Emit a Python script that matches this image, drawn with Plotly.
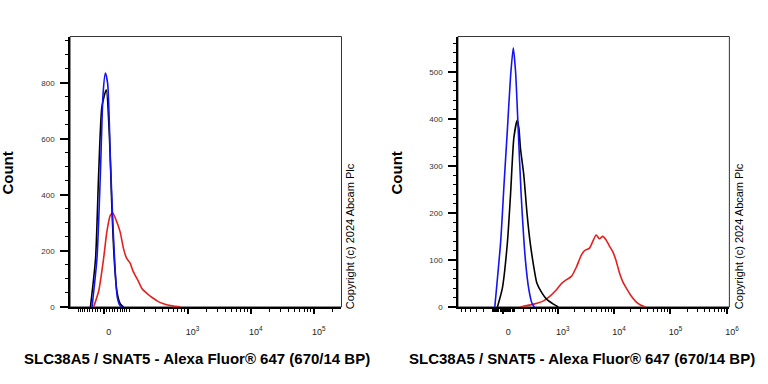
import numpy as np
import plotly.graph_objects as go

# ---------------- data (fluorescence intensity, event count) ----------------
L_blue_x = [-41, -23, -11, -2, 6, 14, 23, 32, 41, 49, 60, 70]
L_blue_y = [0, 174, 479, 760, 835, 796, 539, 303, 127, 33, 4, 0]
L_black_x = [-47, -28, -17, -6, 9, 20, 28, 37, 47, 60, 74]
L_black_y = [0, 174, 479, 714, 775, 610, 374, 174, 57, 12, 0]
L_red_x = [-35, -17, 0, 11, 23, 32, 47, 60, 74, 88, 105, 122, 153, 179, 228,
           275, 334, 402, 483, 601, 771]
L_red_y = [0, 57, 174, 268, 327, 335, 303, 268, 209, 174, 157, 127, 92, 65, 45,
           32, 20, 12, 7, 3, 0]

R_blue_x = [-79, -24, 6, 36, 66, 92, 115, 142, 175, 227, 271, 321, 362]
R_blue_y = [0, 140, 260, 375, 490, 551, 500, 380, 240, 100, 40, 8, 0]
R_black_x = [-54, -9, 36, 66, 98, 132, 150, 167, 206, 249, 295, 350, 405, 510,
             631, 836, 1028]
R_black_y = [0, 40, 135, 240, 360, 397, 380, 338, 282, 198, 135, 86, 51, 30,
             16, 6, 0]
R_red_x = [167, 350, 547, 725, 960, 1179, 1444, 1769, 2167, 2650, 3026, 3699,
           4245, 4846, 5534, 6349, 7237, 8281, 9488, 10834, 12365, 14186, 16184,
           19802, 24198, 29593, 36186]
R_red_y = [0, 6, 13, 23, 37, 50, 58, 65, 85, 110, 120, 125, 140, 153, 145, 150,
           143, 130, 118, 100, 75, 55, 42, 25, 12, 4, 0]

L_major = [0, 1e3, 1e4, 1e5]
L_major_text = ["0", "10<sup>3</sup>", "10<sup>4</sup>", "10<sup>5</sup>"]
R_major = [0, 1e3, 1e4, 1e5, 1e6]
R_major_text = ["0", "10<sup>3</sup>", "10<sup>4</sup>", "10<sup>5</sup>", "10<sup>6</sup>"]

L_yticks = [0, 200, 400, 600, 800]
R_yticks = [0, 100, 200, 300, 400, 500]

XTITLE = "SLC38A5 / SNAT5 - Alexa Fluor® 647 (670/14 BP)"
COPY = "Copyright (c) 2024 Abcam Plc"

def make_tf(cof):
    return lambda v: np.arcsinh(np.asarray(v, dtype=float) / (2 * cof)) / np.log(10)

tf_L = make_tf(47)
tf_R = make_tf(111)

def minor_vals(tf, lo, hi, majors):
    vals = []
    for k in range(1, 7):
        for m in range(1, 10):
            for s in (1, -1):
                v = s * m * 10 ** k
                if v in majors:
                    continue
                t = float(tf(v))
                if lo < t < hi:
                    vals.append(t)
    return sorted(vals)

FONT = "Liberation Sans, Arial, sans-serif"
BLUE = "#1414f0"
RED = "#e3211f"
BLACK = "#000000"

fig = go.Figure()

def add(xv, yv, color, xa, ya, tf):
    fig.add_trace(go.Scatter(x=tf(xv), y=yv, mode="lines",
                             line=dict(color=color, width=1.6, shape="spline", smoothing=0.6),
                             xaxis=xa, yaxis=ya, hoverinfo="skip", showlegend=False))

add(L_red_x, L_red_y, RED, "x", "y", tf_L)
add(L_black_x, L_black_y, BLACK, "x", "y", tf_L)
add(L_blue_x, L_blue_y, BLUE, "x", "y", tf_L)
add(R_red_x, R_red_y, RED, "x2", "y2", tf_R)
add(R_black_x, R_black_y, BLACK, "x2", "y2", tf_R)
add(R_blue_x, R_blue_y, BLUE, "x2", "y2", tf_R)

W, H = 768, 384
ydom = [1 - 311 / H, 1 - 37 / H]
L_dom = [71 / W, 346 / W]
R_dom = [464 / W, 739 / W]
L_range = [(71 - 105) / 64, (346 - 105) / 64]
R_range = [(464 - 510) / 57.3, (739 - 510) / 57.3]

def xaxis(dom, rng, tf, majors, texts):
    return dict(domain=dom, range=rng, tickmode="array",
                tickvals=[float(tf(v)) for v in majors], ticktext=texts,
                ticks="outside", ticklen=5, tickwidth=2, tickcolor="black",
                showline=True, linecolor="black", linewidth=1.5,
                showgrid=False, zeroline=False,
                tickfont=dict(family=FONT, size=9, color="#222"),
                ticklabelstandoff=10, ticklabelshift=5,
                minor=dict(tickmode="array",
                           tickvals=minor_vals(tf, rng[0], rng[1], majors),
                           ticks="outside", ticklen=3, tickwidth=1, tickcolor="black",
                           showgrid=False),
                fixedrange=True)

def yaxis(anchor, rng, majors, step):
    mins = [v for v in np.arange(0, rng[1], step) if v not in majors]
    return dict(domain=ydom, range=rng, anchor=anchor, tickmode="array",
                tickvals=majors, ticks="outside", ticklen=8, tickwidth=1.5,
                tickcolor="black", showline=True, linecolor="black", linewidth=1.5,
                showgrid=False, zeroline=False,
                tickfont=dict(family=FONT, size=8, color="#333"),
                ticklabelstandoff=4,
                minor=dict(tickmode="array", tickvals=[float(m) for m in mins],
                           ticks="outside", ticklen=3, tickwidth=1, tickcolor="black",
                           showgrid=False),
                fixedrange=True)

fig.update_layout(
    width=W, height=H, autosize=False,
    margin=dict(l=0, r=0, t=0, b=0, pad=0),
    paper_bgcolor="white", plot_bgcolor="white",
    xaxis=xaxis(L_dom, L_range, tf_L, L_major, L_major_text) | dict(anchor="y"),
    yaxis=yaxis("x", [0, 965], L_yticks, 50),
    xaxis2=xaxis(R_dom, R_range, tf_R, R_major, R_major_text) | dict(anchor="y2"),
    yaxis2=yaxis("x2", [0, 575], R_yticks, 20),
    showlegend=False,
)

for xr, yr in (("x", "y"), ("x2", "y2")):
    fig.add_shape(type="rect", xref=f"{xr} domain", yref=f"{yr} domain",
                  x0=0, x1=1, y0=0, y1=1, line=dict(color="#333", width=1),
                  layer="below")

ann = []
for cx in (200, 590):
    ann.append(dict(text="<b>" + XTITLE + "</b>", x=cx / W, y=1 - 363 / H,
                    xref="paper", yref="paper", showarrow=False,
                    font=dict(family=FONT, size=15, color="black"),
                    xanchor="center", yanchor="middle"))
for cx in (8, 402):
    ann.append(dict(text="<b>Count</b>", x=cx / W, y=1 - 175 / H, xref="paper", yref="paper",
                    showarrow=False, textangle=-90,
                    font=dict(family=FONT, size=15, color="black"),
                    xanchor="center", yanchor="middle"))
for cx in (354, 749):
    ann.append(dict(text=COPY, x=cx / W, y=1 - 239 / H, xref="paper", yref="paper",
                    showarrow=False, textangle=-90,
                    font=dict(family=FONT, size=11, color="black"),
                    xanchor="center", yanchor="middle"))
fig.update_layout(annotations=ann)

fig.write_html("out.html", config={"displayModeBar": False},
               post_script="document.body.style.margin='0';")
